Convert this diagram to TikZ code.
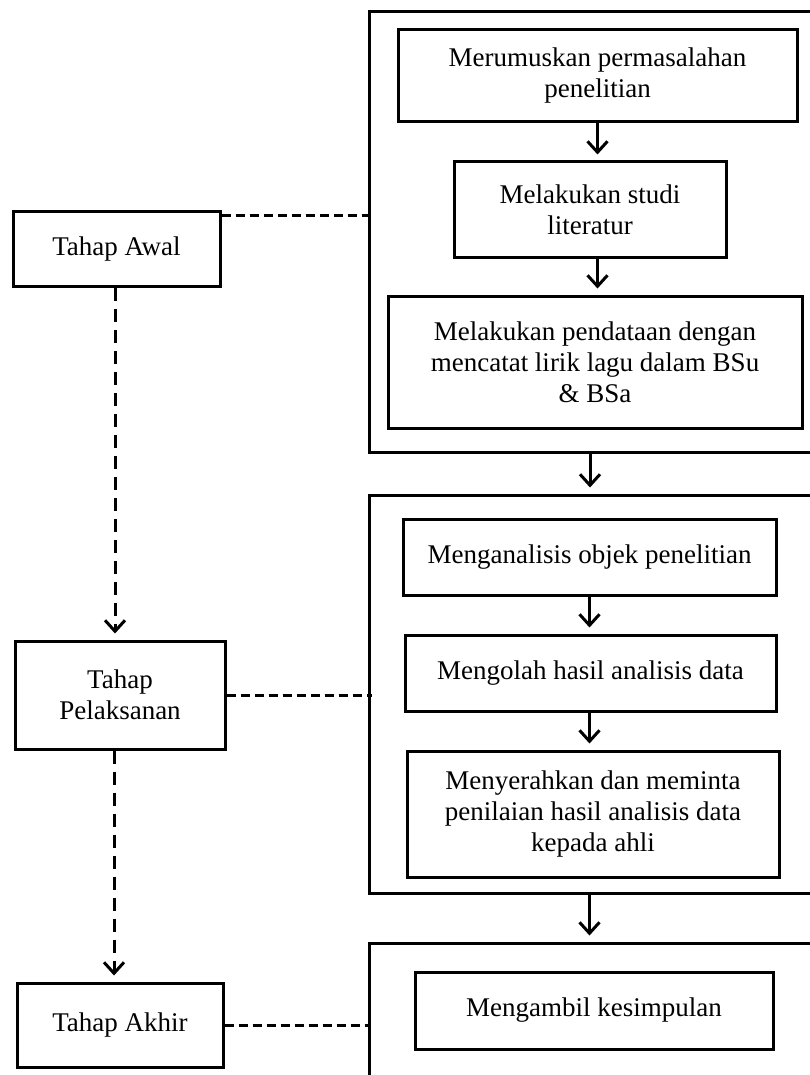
\documentclass[tikz,border=0pt]{standalone}
\usepackage{fontspec}
\setmainfont{Liberation Serif}
\usetikzlibrary{arrows.meta}

\begin{document}
\begin{tikzpicture}[x=1pt, y=-1pt,
        kotak/.style={draw, line width=3pt, align=center, inner sep=0pt, font=\fontsize{27}{31}\selectfont},
        wadah/.style={draw, line width=3pt, minimum width=461pt, inner sep=0pt},
        panah/.style={-{Straight Barb[length=11pt,width=20pt]}, line width=3pt, shorten >=6pt},
        putus/.style={line width=3pt, dash pattern=on 9pt off 5pt},
        panahputus/.style={panah, dash pattern=on 13pt off 8pt}]

        \useasboundingbox (0,0) rectangle (810,1075);
        \clip (0,0) rectangle (810,1075);

        \node[wadah, minimum height=440pt] (wadah1) at (599.5,232) {};
        \node[wadah, minimum height=398pt] (wadah2) at (599.5,694) {};
        \node[wadah, minimum height=167pt] (wadah3) at (599.5,1026.5) {};

        \node[kotak, minimum width=207pt, minimum height=74pt] (awal) at (116.5,249) {Tahap Awal};
        \node[kotak, minimum width=210pt, minimum height=108pt] (pelaksanan) at (120,695) {Tahap\\Pelaksanan};
        \node[kotak, minimum width=206pt, minimum height=84pt] (akhir) at (120,1025) {Tahap Akhir};

        \node[kotak, minimum width=399pt, minimum height=92pt] (rumus) at (597.5,76) {Merumuskan permasalahan\\penelitian};
        \node[kotak, minimum width=272pt, minimum height=95pt] (studi) at (590,209.5) {Melakukan studi\\literatur};
        \node[kotak, minimum width=414pt, minimum height=132pt] (data) at (595,362) {Melakukan pendataan dengan\\mencatat lirik lagu dalam BSu\\\& BSa};

        \node[kotak, minimum width=373pt, minimum height=76pt] (analisis) at (589.5,557) {Menganalisis objek penelitian};
        \node[kotak, minimum width=371pt, minimum height=76pt] (olah) at (590.5,673) {Mengolah hasil analisis data};
        \node[kotak, minimum width=372pt, minimum height=126pt] (serah) at (593,814) {Menyerahkan dan meminta\\penilaian hasil analisis data\\kepada ahli};

        \node[kotak, minimum width=358pt, minimum height=77pt] (simpul) at (594,1010.5) {Mengambil kesimpulan};

        \draw[panah] (rumus.south) -- (rumus.south |- studi.north);
        \draw[panah] (studi.south -| rumus.south) -- (rumus.south |- data.north);
        \draw[panah] (wadah1.south -| studi.south) -- (studi.south |- wadah2.north);
        \draw[panah] (analisis.south) -- (analisis.south |- olah.north);
        \draw[panah] (olah.south -| analisis.south) -- (analisis.south |- serah.north);
        \draw[panah] (wadah2.south -| analisis.south) -- (analisis.south |- wadah3.north);

        \coordinate (garisawal) at ([yshift=-5pt]awal.north east);
        \draw[putus] (garisawal) -- (garisawal -| wadah1.west);
        \draw[putus] (pelaksanan.east) -- ([xshift=4pt]pelaksanan.east -| wadah2.west);
        \draw[putus] (akhir.east) -- (akhir.east -| wadah3.west);

        \draw[panahputus] ([xshift=-1.5pt]awal.south) -- ([xshift=-1.5pt]awal.south |- pelaksanan.north);
        \draw[panahputus] ([xshift=-6pt]pelaksanan.south) -- ([xshift=-6pt]pelaksanan.south |- akhir.north);

    \end{tikzpicture}
\end{document}
